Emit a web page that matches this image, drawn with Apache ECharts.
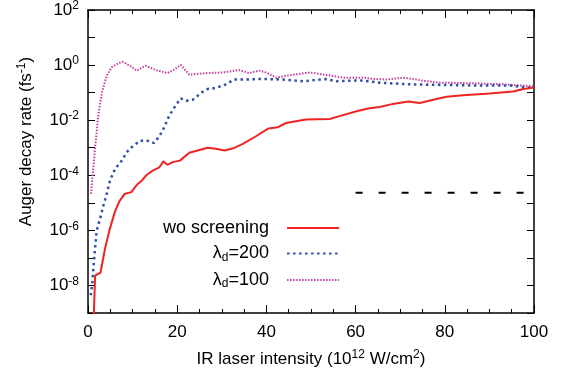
<!DOCTYPE html>
<html><head><meta charset="utf-8">
<script src="https://cdn.jsdelivr.net/npm/echarts@6/dist/echarts.min.js"></script>
<style>html,body{margin:0;padding:0;background:#fff}#c{width:563px;height:377px}</style>
</head><body><div id="c"></div>
<script>
// x: IR laser intensity (10^12 W/cm^2), y: Auger decay rate (fs^-1)
const woScreening = [[1.25,5e-10],[1.6,2.3e-8],[2.8,2.9e-8],[3.8,2.1e-7],[4.8,1.0e-6],[6.0,4.6e-6],[7.0,1.1e-5],[8.2,2.1e-5],[9.7,2.45e-5],[11.0,4.6e-5],[12.1,6.5e-5],[13.0,9.8e-5],[14.5,1.48e-4],[16.0,1.95e-4],[16.9,3.2e-4],[17.8,2.4e-4],[19.0,3.0e-4],[20.6,3.4e-4],[22.7,6.6e-4],[24.6,7.9e-4],[26.8,1.0e-3],[28.7,9.1e-4],[30.6,7.9e-4],[32.8,9.8e-4],[34.7,1.38e-3],[37.3,2.4e-3],[40.5,5.0e-3],[42.5,5.5e-3],[44.4,7.9e-3],[48.9,1.05e-2],[54.2,1.1e-2],[56.4,1.4e-2],[60.2,2.1e-2],[63.1,2.7e-2],[65.4,3.0e-2],[68.4,3.9e-2],[71.8,4.8e-2],[74.4,4.2e-2],[77.4,5.5e-2],[80.4,7.1e-2],[84.1,8.1e-2],[90.1,9.3e-2],[95.3,0.11],[97.6,0.135],[100,0.155]];
const lambda200 = [[0.6,4.4e-9],[1.0,1.35e-8],[1.2,4.1e-8],[1.57,2.1e-7],[1.95,1.0e-6],[2.7,2.6e-6],[3.44,7.9e-6],[4.2,2.1e-5],[4.94,6.5e-5],[6.07,1.7e-4],[7.57,3.4e-4],[8.7,6.9e-4],[9.8,1.05e-3],[11.7,1.8e-3],[13.3,1.8e-3],[14.8,1.48e-3],[16.0,2.6e-3],[17.1,5.5e-3],[18.2,1.45e-2],[19.7,3.5e-2],[20.8,6.2e-2],[22.0,5.1e-2],[23.4,5.4e-2],[25.7,0.107],[26.8,0.135],[28.7,0.148],[30.9,0.2],[32.8,0.3],[35.4,0.3],[37.7,0.31],[40.7,0.31],[43.7,0.3],[48.2,0.26],[53.4,0.31],[55.7,0.26],[60.9,0.28],[65.4,0.23],[72.1,0.2],[79.6,0.19],[88.6,0.18],[94.6,0.18],[100,0.145]];
const lambda100 = [[0.67,2.1e-5],[1.57,9.1e-4],[2.3,1.45e-2],[3.1,0.1],[4.2,0.41],[5.3,0.83],[6.8,1.17],[7.8,1.32],[9.4,0.95],[10.9,0.63],[12.9,0.95],[15.2,0.66],[17.8,0.51],[19.3,0.68],[20.8,1.02],[22.7,0.45],[26.4,0.51],[30.2,0.54],[33.9,0.66],[36.1,0.51],[38.4,0.63],[39.9,0.54],[42.2,0.35],[44.4,0.41],[49.7,0.54],[53.4,0.44],[57.1,0.35],[61.6,0.35],[64.6,0.31],[67.0,0.30],[70.6,0.35],[73.6,0.30],[75.1,0.27],[78.9,0.23],[85.6,0.22],[93.0,0.2],[100,0.17]];
const refDash = [[60,2.3e-5],[100,2.3e-5]];
const seriesNames = ['wo screening','λd=200','λd=100'];
const xTicks = {min:0, max:100, step:20};
const yRange = {min:1e-9, max:1e2};

const FONT = 'Liberation Sans, Arial, Helvetica, sans-serif';
const chart = echarts.init(document.getElementById('c'), null, {renderer:'canvas'});
const supRich = {
  b:{fontSize:17, lineHeight:20, fontFamily:FONT, color:'#000'},
  s:{fontSize:12, lineHeight:10, verticalAlign:'top', fontFamily:FONT, color:'#000'}
};
const axisLine = {show:true, onZero:false, lineStyle:{color:'#000', width:1.5}};
const xCommon = {
  type:'value', min:xTicks.min, max:xTicks.max, interval:xTicks.step,
  axisLine, splitLine:{show:false},
  axisTick:{show:true, inside:true, length:8, lineStyle:{color:'#000', width:1}},
  minorTick:{show:true, splitNumber:4, length:4, lineStyle:{color:'#000', width:1}}
};
const yCommon = {
  type:'log', logBase:10, min:yRange.min, max:yRange.max, interval:1,
  axisLine, splitLine:{show:false}, minorSplitLine:{show:false},
  axisTick:{show:true, inside:true, length:7, lineStyle:{color:'#000', width:1}},
  minorTick:{show:false}
};
chart.setOption({
  animation:false,
  backgroundColor:'#fff',
  grid:{left:88, right:29, top:10, bottom:64},
  xAxis:[
    Object.assign({}, xCommon, {
      position:'bottom',
      axisLabel:{show:true, fontSize:17, fontFamily:FONT, color:'#000', margin:11},
      name:'{b|IR laser intensity (10}{s|12}{b| W/cm}{s|2}{b|)}',
      nameLocation:'middle', nameGap:36,
      nameTextStyle:{rich:supRich}
    }),
    Object.assign({}, xCommon, {position:'top', axisLabel:{show:false}})
  ],
  yAxis:[
    Object.assign({}, yCommon, {
      position:'left',
      axisLabel:{show:true, margin:9, formatter:function(v){
        const e = Math.round(Math.log10(v));
        if (e % 2 !== 0) return '';
        return '{b|10}{s|' + e + '}';
      }, rich:supRich},
      name:'{b|Auger decay rate (fs}{s|-1}{b|)}',
      nameLocation:'middle', nameGap:52, nameRotate:90,
      nameTextStyle:{rich:supRich, padding:[0,0,0,40]}
    }),
    Object.assign({}, yCommon, {position:'right', axisLabel:{show:false}})
  ],
  legend:{
    show:true, orient:'vertical', align:'right', left:163, top:219, padding:0,
    itemWidth:52, itemHeight:2, itemGap:7.5,
    itemStyle:{opacity:0},
    data:seriesNames,
    formatter:function(n){
      if (n === 'wo screening') return '{t|wo screening}{g|}';
      return '{t|λ}{d|d}{t|' + n.slice(2) + '}{g|}';
    },
    textStyle:{rich:{
      t:{fontSize:18, lineHeight:20, fontFamily:FONT, color:'#000'},
      d:{fontSize:12, lineHeight:10, verticalAlign:'bottom', fontFamily:FONT, color:'#000'},
      g:{width:13, lineHeight:20}
    }}
  },
  series:[
    {name:seriesNames[2], type:'line', data:lambda100, symbol:'none', clip:true,
     lineStyle:{color:'#c8409c', width:2, type:[1.5,1.5]}, itemStyle:{color:'#c8409c'}, z:2},
    {name:seriesNames[1], type:'line', data:lambda200, symbol:'none', clip:true,
     lineStyle:{color:'#3050a8', width:2.5, type:[2.5,3.5]}, itemStyle:{color:'#3050a8'}, z:3},
    {name:seriesNames[0], type:'line', data:woScreening, symbol:'none', clip:true,
     lineStyle:{color:'#ee2424', width:2}, itemStyle:{color:'#ee2424'}, z:4},
    {name:'ref', type:'line', data:refDash, symbol:'none', clip:true,
     lineStyle:{color:'#000', width:2, type:[7,16]}, itemStyle:{color:'#000'}, z:1}
  ]
});
</script></body></html>
